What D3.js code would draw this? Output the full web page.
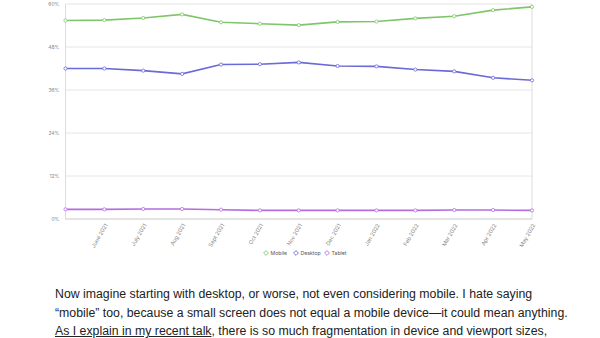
<!DOCTYPE html>
<html><head><meta charset="utf-8">
<script src="https://cdn.jsdelivr.net/npm/d3@7"></script>
<style>
html,body{margin:0;padding:0;background:#fff;width:600px;height:338px;overflow:hidden;}
#para{position:absolute;left:55px;top:285px;width:545px;font-family:"Liberation Sans",Arial,sans-serif;font-size:12.3px;line-height:18.7px;color:#222;}
#para a{color:#222;text-decoration:underline;}
</style></head><body>
<svg id="chart" width="600" height="280" style="position:absolute;left:0;top:0"></svg>
<div id="para">Now imagine starting with desktop, or worse, not even considering mobile. I hate saying<br>“mobile” too, because a small screen does not equal a mobile device—it could mean anything.<br><a href="#">As I explain in my recent talk</a>, there is so much fragmentation in device and viewport sizes,</div>
<script>
const months = ["May 2021","June 2021","July 2021","Aug 2021","Sept 2021","Oct 2021","Nov 2021","Dec 2021","Jan 2022","Feb 2022","Mar 2022","Apr 2022","May 2022"];
const tickLabels = ["","June 2021","July 2021","Aug 2021","Sept 2021","Oct 2021","Nov 2021","Dec 2021","Jan 2022","Feb 2022","Mar 2022","Apr 2022","May 2022"];
const mobile = [55.4,55.5,56.1,57.1,54.9,54.5,54.1,55.0,55.1,56.0,56.6,58.3,59.2];
const desktop = [42.0,42.0,41.4,40.5,43.1,43.2,43.7,42.7,42.6,41.7,41.2,39.4,38.7];
const tablet = [2.7,2.7,2.8,2.8,2.6,2.4,2.4,2.4,2.4,2.4,2.5,2.5,2.4];
const yTicks = [0,12,24,36,48,60];
const seriesNames = ["Mobile","Desktop","Tablet"];
const seriesColors = ["#7fc66a","#6a6ad8","#b36de0"];

const svg = d3.select("#chart");
const x = d3.scalePoint().domain(months).range([65.5,532]);
const y = d3.scaleLinear().domain([0,60]).range([219,4]);

// gridlines
svg.append("g").selectAll("line").data(yTicks).join("line")
  .attr("x1",65.5).attr("x2",532).attr("y1",d=>y(d)).attr("y2",d=>y(d))
  .attr("stroke","#e6e6e6").attr("stroke-width",1);
// frame
svg.append("line").attr("x1",532).attr("x2",532).attr("y1",y(60)).attr("y2",y(0)).attr("stroke","#dcdcdc");
svg.append("line").attr("x1",65.5).attr("x2",65.5).attr("y1",y(60)).attr("y2",y(0)).attr("stroke","#dcdcdc");
svg.append("line").attr("x1",65.5).attr("x2",532).attr("y1",y(0)).attr("y2",y(0)).attr("stroke","#d4d4d4");

// y axis labels
const yAxis = d3.axisLeft(y).tickValues(yTicks).tickSize(0).tickPadding(6).tickFormat(d=>d+"%");
const gy = svg.append("g").attr("transform","translate(65.5,0)").call(yAxis);
gy.select(".domain").remove();
gy.selectAll("text").attr("font-family","Inter, sans-serif").attr("font-size",5).attr("fill","#888");

// x axis labels
const xAxis = d3.axisBottom(x).tickSize(0).tickFormat((d,i)=>tickLabels[i]);
const gx = svg.append("g").attr("transform","translate(0,219)").call(xAxis);
gx.select(".domain").remove();
gx.selectAll("text").attr("font-family","Inter, sans-serif").attr("font-size",5.5).attr("fill","#888")
  .attr("text-anchor","end").attr("dy",0).attr("y",0)
  .attr("transform","translate(3,6) rotate(-60)");

const series = [mobile, desktop, tablet];
const line = d3.line().x((d,i)=>x(months[i])).y(d=>y(d));
series.forEach((vals,si)=>{
  svg.append("path").datum(vals).attr("d",line).attr("fill","none")
    .attr("stroke",seriesColors[si]).attr("stroke-width",1.6);
  svg.append("g").selectAll("circle").data(vals).join("circle")
    .attr("cx",(d,i)=>x(months[i])).attr("cy",d=>y(d)).attr("r",1.6)
    .attr("fill","#fff").attr("stroke",seriesColors[si]).attr("stroke-width",0.8);
});

// legend
const legX = [266,296,327];
const leg = svg.append("g");
seriesNames.forEach((n,i)=>{
  const g = leg.append("g").attr("transform",`translate(${legX[i]},253)`);
  g.append("path").attr("d","M0,-2.4L2.4,0L0,2.4L-2.4,0Z").attr("fill","#fff")
    .attr("stroke",seriesColors[i]).attr("stroke-width",0.9);
  g.append("text").attr("x",4.5).attr("y",1.8).text(n)
    .attr("font-family","Inter, sans-serif").attr("font-size",5.2).attr("fill","#555");
});
</script>
</body></html>
